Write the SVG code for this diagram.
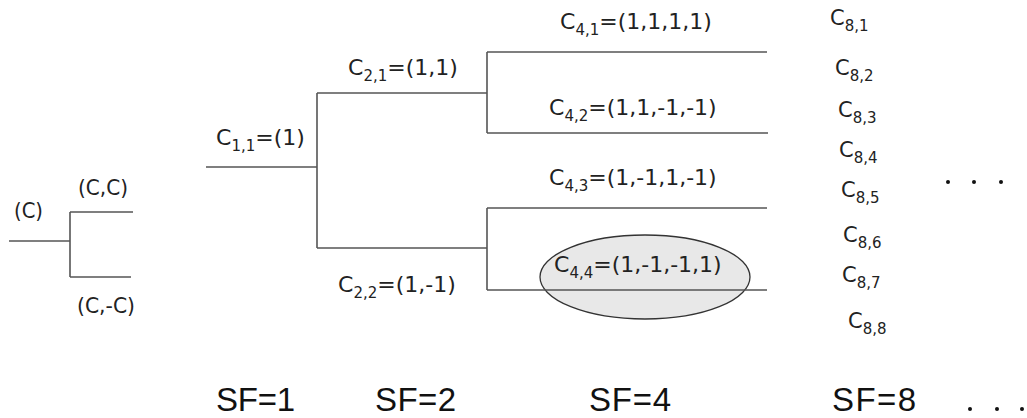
<svg xmlns="http://www.w3.org/2000/svg" width="1027" height="418" viewBox="0 0 1027 418">
<style>
.ln{stroke:#555;stroke-width:1.6;fill:none}
.t{font-family:"DejaVu Sans",sans-serif;font-size:22px;fill:#222}
.s{font-size:15px}
.ts{font-family:"DejaVu Sans",sans-serif;font-size:21px;fill:#222}
.c8{font-family:"DejaVu Sans",sans-serif;font-size:21px;fill:#222}
.sf{font-family:"Liberation Sans",sans-serif;font-size:33px;fill:#111}
.dot{fill:#111}
</style>
<rect width="1027" height="418" fill="#fff"/>
<g id="connectors">
<path class="ln" d="M9 241H70M70 212V277M70 212H133M70 277H131"/>
<path class="ln" d="M206 167H317M317 93V248M317 93H487M317 248H487"/>
<path class="ln" d="M487 52V133M487 52H767M487 133H768"/>
<path class="ln" d="M487 208V290M487 208H767"/>
</g>
<g id="node-c44">
<ellipse cx="645" cy="277" rx="105" ry="42" fill="#e8e8e8" stroke="#333" stroke-width="1.3"/>
<path class="ln" d="M487 290H767"/>
<text class="t" x="554" y="272">C<tspan class="s" dy="6">4,4</tspan><tspan dy="-6">=(1,-1,-1,1)</tspan></text>
</g>
<g id="node-c"><text class="ts" x="14" y="218" textLength="29" lengthAdjust="spacingAndGlyphs">(C)</text></g>
<g id="node-cc"><text class="ts" x="78" y="195" textLength="50" lengthAdjust="spacingAndGlyphs">(C,C)</text></g>
<g id="node-cmc"><text class="ts" x="77" y="313" textLength="58" lengthAdjust="spacingAndGlyphs">(C,-C)</text></g>
<g id="node-c11"><text class="t" x="216" y="145">C<tspan class="s" dy="6">1,1</tspan><tspan dy="-6">=(1)</tspan></text></g>
<g id="node-c21"><text class="t" x="348" y="75">C<tspan class="s" dy="6">2,1</tspan><tspan dy="-6">=(1,1)</tspan></text></g>
<g id="node-c22"><text class="t" x="338" y="292">C<tspan class="s" dy="6">2,2</tspan><tspan dy="-6">=(1,-1)</tspan></text></g>
<g id="node-c41"><text class="t" x="560" y="29">C<tspan class="s" dy="6">4,1</tspan><tspan dy="-6">=(1,1,1,1)</tspan></text></g>
<g id="node-c42"><text class="t" x="549" y="115">C<tspan class="s" dy="6">4,2</tspan><tspan dy="-6">=(1,1,-1,-1)</tspan></text></g>
<g id="node-c43"><text class="t" x="549" y="185">C<tspan class="s" dy="6">4,3</tspan><tspan dy="-6">=(1,-1,1,-1)</tspan></text></g>
<g id="node-c8">
<text class="c8" x="830" y="25">C<tspan class="s" dy="6">8,1</tspan></text>
<text class="c8" x="835" y="75">C<tspan class="s" dy="6">8,2</tspan></text>
<text class="c8" x="838" y="117">C<tspan class="s" dy="6">8,3</tspan></text>
<text class="c8" x="839" y="157">C<tspan class="s" dy="6">8,4</tspan></text>
<text class="c8" x="841" y="197">C<tspan class="s" dy="6">8,5</tspan></text>
<text class="c8" x="843" y="242">C<tspan class="s" dy="6">8,6</tspan></text>
<text class="c8" x="842" y="282">C<tspan class="s" dy="6">8,7</tspan></text>
<text class="c8" x="848" y="328">C<tspan class="s" dy="6">8,8</tspan></text>
</g>
<g id="dots-right">
<circle class="dot" cx="948" cy="182" r="2"/>
<circle class="dot" cx="974" cy="182" r="2"/>
<circle class="dot" cx="1001" cy="182" r="2"/>
</g>
<g id="sf-labels">
<text class="sf" x="216" y="411" textLength="81" lengthAdjust="spacing" letter-spacing="2">SF=1</text>
<text class="sf" x="375" y="411" textLength="83" lengthAdjust="spacing" letter-spacing="2">SF=2</text>
<text class="sf" x="589" y="411" textLength="84" lengthAdjust="spacing" letter-spacing="2">SF=4</text>
<text class="sf" x="832" y="411" textLength="86" lengthAdjust="spacing" letter-spacing="2">SF=8</text>
<circle class="dot" cx="970" cy="409" r="2"/>
<circle class="dot" cx="997" cy="409" r="2"/>
<circle class="dot" cx="1022" cy="409" r="2"/>
</g>
</svg>
